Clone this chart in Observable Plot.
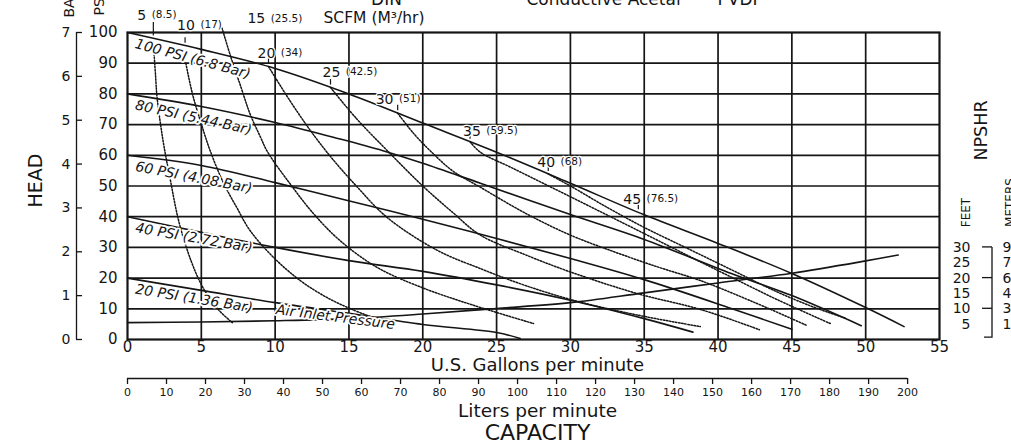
<!DOCTYPE html>
<html>
<head>
<meta charset="utf-8">
<script src="https://cdn.jsdelivr.net/npm/d3@7"></script>
<script src="https://cdn.jsdelivr.net/npm/@observablehq/plot@0.6"></script>
<style>
  html, body { margin: 0; padding: 0; background: #fff; overflow: hidden; }
  #chart svg { display: block; }
</style>
</head>
<body>
<div id="chart"></div>
<script>
// ---------------------------------------------------------------------------
// Pump performance curve: head vs. capacity, air consumption and NPSHR
// ---------------------------------------------------------------------------

// Axis ticks
const flowTicks = [0, 5, 10, 15, 20, 25, 30, 35, 40, 45, 50, 55];        // U.S. gpm
const flowGrid = [5, 10, 15, 20, 25, 30, 35, 40, 45, 50];
const headTicks = [0, 10, 20, 30, 40, 50, 60, 70, 80, 90, 100];          // PSI
const headGrid = [10, 20, 30, 40, 50, 60, 70, 80, 90];
const barTicks = [0, 1, 2, 3, 4, 5, 6, 7];
const literTicks = [0, 10, 20, 30, 40, 50, 60, 70, 80, 90, 100, 110, 120, 130, 140, 150, 160, 170, 180, 190, 200];
const npshFeetTicks = [30, 25, 20, 15, 10, 5];
const npshMeterLabels = ["9", "7.5", "6", "4.5", "3", "1.5"];
const npshBracketTicks = [30, 20, 10];

// Air inlet pressure curves: [gpm, head psi]
const pressurePsi = [100, 80, 60, 40, 20];
const pressureBar = ["6.8", "5.44", "4.08", "2.72", "1.36"];
const head100 = [[0, 100], [5, 94.5], [10, 88.3], [15, 80], [20, 70.5], [25, 61], [30, 50.9], [35, 40.6], [40, 31.3], [45, 21.5], [50, 10.4], [52.6, 4.2]];
const head80 = [[0, 80], [5, 75.9], [10, 70.7], [14, 65.8], [17.3, 61.5], [20, 57.4], [23.9, 50.9], [30, 40.7], [35, 32.6], [40.9, 21.5], [45, 14.3], [49.7, 4.5]];
const head60 = [[0, 60], [5, 56.7], [10, 51.1], [14.9, 45.3], [20, 39.2], [25, 32.9], [30, 26.4], [35, 19.5], [40.9, 10.1], [45, 3.3]];
const head40 = [[0, 40], [5, 34.9], [10, 30], [15, 25.7], [20, 22.2], [25, 17.8], [30, 12.8], [35, 6.8], [38.3, 2.4]];
const head20 = [[0, 20], [5, 16], [10, 12], [15, 8.5], [20, 4.9], [25, 2.3], [26.6, 0.3]];

// NPSHR in feet: [gpm, feet]
const npshr = [[0, 5.5], [5, 5.7], [10, 6.1], [15, 6.8], [20, 8.3], [25, 10.1], [30, 12.0], [35, 15.2], [40, 18.4], [45, 21.6], [50, 25.6], [52.2, 27.5]];

// Air consumption, SCFM (m³/hr)
const scfm = [5, 10, 15, 20, 25, 30, 35, 40, 45];
const m3hr = ["8.5", "17", "25.5", "34", "42.5", "51", "59.5", "68", "76.5"];
const scfmStartGpm = [1.75, 3.9, 6.7, 9.55, 13.75, 18.3, 23.2, 28.5, 34.6];   // where each meets the 100 PSI curve
const air5 = [[1.8, 93], [1.9, 86], [2.0, 79], [2.4, 65], [2.9, 52], [3.5, 38], [4.3, 25.7], [5.1, 17], [6.1, 10], [7.1, 5.5]];
const air10 = [[3.95, 90], [4.4, 80], [4.95, 71], [5.6, 61.5], [6.5, 51], [7.4, 43], [8.3, 35.5], [9.9, 26.7], [11.7, 19.2], [13.5, 13.7], [15.2, 9.8], [16.6, 7.2]];
const air15 = [[6.4, 101.5], [7.0, 92], [7.7, 82], [8.3, 73.5], [9.0, 66], [9.5, 61], [11.0, 50.8], [12.6, 41], [14.4, 32.2], [16.9, 23.5], [19.9, 17], [23.4, 11.2], [27.5, 5.2]];
const air20 = [[9.55, 88.9], [11.0, 77.8], [12.4, 68], [13.8, 59.3], [15.5, 50], [17.6, 39.7], [21, 29], [23.9, 23.1], [27, 17.5], [30.5, 12.4], [34.5, 8], [38.8, 4.2]];
const air25 = [[13.75, 82.1], [15.5, 72], [17.6, 61.5], [20, 50], [22, 41.5], [23.9, 34], [27, 27.5], [30, 22], [34.5, 15], [38.8, 9.8], [42.8, 3.2]];
const air30 = [[18.3, 73.7], [19.4, 67], [20.5, 61.5], [22, 55], [23.9, 49.6], [27, 41], [30, 34], [33, 28.5], [36, 23.5], [38.8, 19.2], [42.5, 12], [46.0, 4.6]];
const air35 = [[23.2, 64.4], [23.9, 61], [26, 56], [30, 46.5], [35, 34.5], [38.8, 25.3], [40.9, 20.3], [44, 13], [47.6, 5.2]];
const air40 = [[28.5, 53.9], [30, 50], [32.5, 43], [35, 36.5], [38, 29.5], [41, 22.5], [44, 15.5], [46.5, 10.5], [48.6, 7]];

// ---------------------------------------------------------------------------
// Layout
// ---------------------------------------------------------------------------
const W = 1011, H = 445;
const M = {top: 32, right: 72, bottom: 106, left: 127};
const X_DOMAIN = [0, 55], Y_DOMAIN = [0, 100];
const ink = "#151515";
const GAL_TO_L = 3.785;
// pixels per unit, used to nudge labels off their anchor points
const kx = (W - M.left - M.right) / (X_DOMAIN[1] - X_DOMAIN[0]);
const ky = (H - M.top - M.bottom) / (Y_DOMAIN[1] - Y_DOMAIN[0]);

const pressureCurves = [head100, head80, head60, head40, head20];
const pressureRows = pressureCurves.flatMap((c, i) => c.map(([gpm, head]) => ({gpm, head, psi: pressurePsi[i]})));
const airCurves = [air5, air10, air15, air20, air25, air30, air35, air40];
const airRows = airCurves.flatMap((c, i) => c.map(([gpm, head]) => ({gpm, head, scfm: scfm[i]})));
const npshRows = npshr.map(([gpm, feet]) => ({gpm, feet}));

// pressure curve captions, laid along each curve
const captionAngle = [15, 12.3, 10.9, 9.9, 9.2];
const pressureCaptions = pressurePsi.map((p, i) => ({
  gpm: pressureCurves[i][0][0],
  head: pressureCurves[i][0][1],
  text: `${p} PSI (${pressureBar[i]} Bar)`,
  angle: captionAngle[i]
}));
const on20 = d3.scaleLinear(head20.map(d => d[0]), head20.map(d => d[1]));
const inletCaption = [{gpm: 10, head: on20(10), text: "Air Inlet Pressure"}];

// SCFM labels sit above the start of each air curve on the 100 PSI line
const on100 = d3.scaleLinear(head100.map(d => d[0]), head100.map(d => d[1]));
const numDx = [-16, -8, 21, -11, -8, -22, -7, -11, -15];
const numDy = [-23, -20, -37, -13, -15, -14, -10, -11.5, -13];
const scfmRows = scfm.map((s, i) => {
  const gpm = scfmStartGpm[i], head = on100(gpm);
  const numW = String(s).length * 8.9 + 5.5;
  return {
    scfm: s,
    num: String(s),
    m3: `(${m3hr[i]})`,
    gpm,
    head,
    lx: gpm + numDx[i] / kx,
    ly: head - numDy[i] / ky,
    px: gpm + (numDx[i] + numW) / kx,
    py: head - (numDy[i] - 0.7) / ky
  };
});
const scfmTicks = scfmRows.filter(d => d.scfm !== 15);

const halo = {stroke: "white", strokeWidth: 3.5, paintOrder: "stroke", fill: ink};

const plot = Plot.plot({
  width: W,
  height: H,
  marginTop: M.top,
  marginRight: M.right,
  marginBottom: M.bottom,
  marginLeft: M.left,
  style: {fontFamily: "'DejaVu Sans', sans-serif", fontSize: "15px", color: ink, background: "white"},
  x: {domain: X_DOMAIN},
  y: {domain: Y_DOMAIN},
  marks: [
    // grid and frame
    Plot.ruleX(flowGrid, {stroke: ink, strokeWidth: 1.7}),
    Plot.ruleY(headGrid, {stroke: ink, strokeWidth: 1.7}),
    Plot.frame({stroke: ink, strokeWidth: 2.2}),

    // air consumption (dotted)
    Plot.line(airRows, {x: "gpm", y: "head", z: "scfm", stroke: ink, strokeWidth: 1.5,
      strokeDasharray: "1.5,1.6", curve: "catmull-rom"}),
    // NPSHR
    Plot.line(npshRows, {x: "gpm", y: "feet", stroke: ink, strokeWidth: 1.6, curve: "catmull-rom"}),
    // air inlet pressure curves
    Plot.line(pressureRows, {x: "gpm", y: "head", z: "psi", stroke: ink, strokeWidth: 1.6, curve: "catmull-rom"}),

    // curve captions
    Plot.text(pressureCaptions, {x: "gpm", y: "head", text: "text", rotate: d => d.angle,
      dx: 8, dy: 11, textAnchor: "start", lineAnchor: "middle", fontSize: 14, fontStyle: "italic", ...halo}),
    Plot.text(inletCaption, {x: "gpm", y: "head", text: "text", rotate: 7.2,
      dx: 1, dy: 7, textAnchor: "start", lineAnchor: "middle", fontSize: 14, fontStyle: "italic", ...halo}),

    // SCFM markers and labels
    Plot.ruleX(scfmTicks, {x: "gpm", y1: d => d.head + 0.8, y2: d => d.head + (d.scfm === 5 ? 5.2 : 2.6), stroke: ink, strokeWidth: 1.2}),
    Plot.text(scfmRows, {x: "lx", y: "ly", text: "num",
      textAnchor: "start", lineAnchor: "middle", fontSize: 14, ...halo, strokeWidth: 2.5}),
    Plot.text(scfmRows, {x: "px", y: "py", text: "m3",
      textAnchor: "start", lineAnchor: "middle", fontSize: 10.5, ...halo, strokeWidth: 2.5}),
    Plot.text(["SCFM (M³/hr)"], {frameAnchor: "top-left", dx: 196, dy: -14, textAnchor: "start",
      lineAnchor: "middle", fontSize: 15.5}),

    // material headings along the top edge
    Plot.text(["DIN"], {frameAnchor: "top-left", dx: 259, dy: -28, textAnchor: "middle", lineAnchor: "bottom", fontSize: 17}),
    Plot.text(["Conductive Acetal"], {frameAnchor: "top-left", dx: 476, dy: -28, textAnchor: "middle", lineAnchor: "bottom", fontSize: 17}),
    Plot.text(["PVDF"], {frameAnchor: "top-left", dx: 590, dy: -28, textAnchor: "start", lineAnchor: "bottom", fontSize: 17}),

    // head axes: PSI and BAR
    Plot.axisY(headTicks, {anchor: "left", tickSize: 0, tickPadding: 10, fontSize: 15, label: null}),
    Plot.ruleX([0], {y1: 0, y2: 100, dx: -51, stroke: ink, strokeWidth: 1.3}),
    Plot.axisY(barTicks.map(b => b * 100 / 7), {anchor: "left", tickSize: -6, tickPadding: 12, dx: -51,
      fontSize: 14, tickFormat: d => String(Math.round(d * 7 / 100)), label: null, strokeWidth: 1.3}),
    Plot.text(["BAR"], {frameAnchor: "top-left", dx: -58, dy: -15, rotate: -90, textAnchor: "start", lineAnchor: "middle", fontSize: 14}),
    Plot.text(["PSI"], {frameAnchor: "top-left", dx: -28, dy: -17, rotate: -90, textAnchor: "start", lineAnchor: "middle", fontSize: 14}),
    Plot.text(["HEAD"], {frameAnchor: "left", dx: -92, dy: -5.5, rotate: -90, textAnchor: "middle", lineAnchor: "middle", fontSize: 19}),

    // capacity axes: gallons and liters
    Plot.axisX(flowTicks, {anchor: "bottom", tickSize: 0, tickPadding: 2, fontSize: 15, label: null}),
    Plot.text(["U.S. Gallons per minute"], {frameAnchor: "bottom", dx: 4, dy: 26, lineAnchor: "middle", fontSize: 18}),
    Plot.ruleY([0], {x1: 0, x2: 200 / GAL_TO_L, dy: 39, stroke: ink, strokeWidth: 1.6}),
    Plot.axisX(literTicks.map(l => l / GAL_TO_L), {anchor: "bottom", tickSize: 6, tickPadding: 4, dy: 39,
      fontSize: 11, tickFormat: d => String(Math.round(d * GAL_TO_L)), label: null, strokeWidth: 1.3}),
    Plot.text(["Liters per minute"], {frameAnchor: "bottom", dx: 4, dy: 72, lineAnchor: "middle", fontSize: 18.5}),
    Plot.text(["CAPACITY"], {frameAnchor: "bottom", dx: 4, dy: 93, lineAnchor: "middle", fontSize: 22}),

    // NPSHR scale, feet and meters
    Plot.text(npshFeetTicks, {y: d => d, text: d => String(d), frameAnchor: "right", dx: 31, textAnchor: "end", lineAnchor: "middle", fontSize: 14}),
    Plot.text(npshFeetTicks, {y: d => d, text: (d, i) => npshMeterLabels[i], frameAnchor: "right", dx: 63, textAnchor: "start", lineAnchor: "middle", fontSize: 14}),
    Plot.text(["NPSHR"], {frameAnchor: "top-right", dx: 42, dy: 98, rotate: -90, textAnchor: "middle", lineAnchor: "middle", fontSize: 17.5}),
    Plot.text(["FEET"], {frameAnchor: "top-right", dx: 27, dy: 180, rotate: -90, textAnchor: "middle", lineAnchor: "middle", fontSize: 12}),
    Plot.text(["METERS"], {frameAnchor: "top-right", dx: 71, dy: 170, rotate: -90, textAnchor: "middle", lineAnchor: "middle", fontSize: 12})
  ]
});

// bracket joining the feet and meter columns, placed with the plot's scales
{
  const xs = plot.scale("x"), ys = plot.scale("y");
  const X = d3.scaleLinear(xs.domain, xs.range);
  const Y = d3.scaleLinear(ys.domain, ys.range);
  const bx = X(X_DOMAIN[1]) + 53;
  const g = d3.select(plot).append("g").attr("stroke", ink).attr("stroke-width", 1.3).attr("fill", "none");
  g.append("path").attr("d", `M${bx},${Y(d3.max(npshBracketTicks))}V${Y(0.6)}H${bx - 8}`);
  g.selectAll("line").data(npshBracketTicks).join("line")
    .attr("x1", bx - 10).attr("x2", bx).attr("y1", d => Y(d)).attr("y2", d => Y(d));
}

document.getElementById("chart").append(plot);
</script>
</body>
</html>
